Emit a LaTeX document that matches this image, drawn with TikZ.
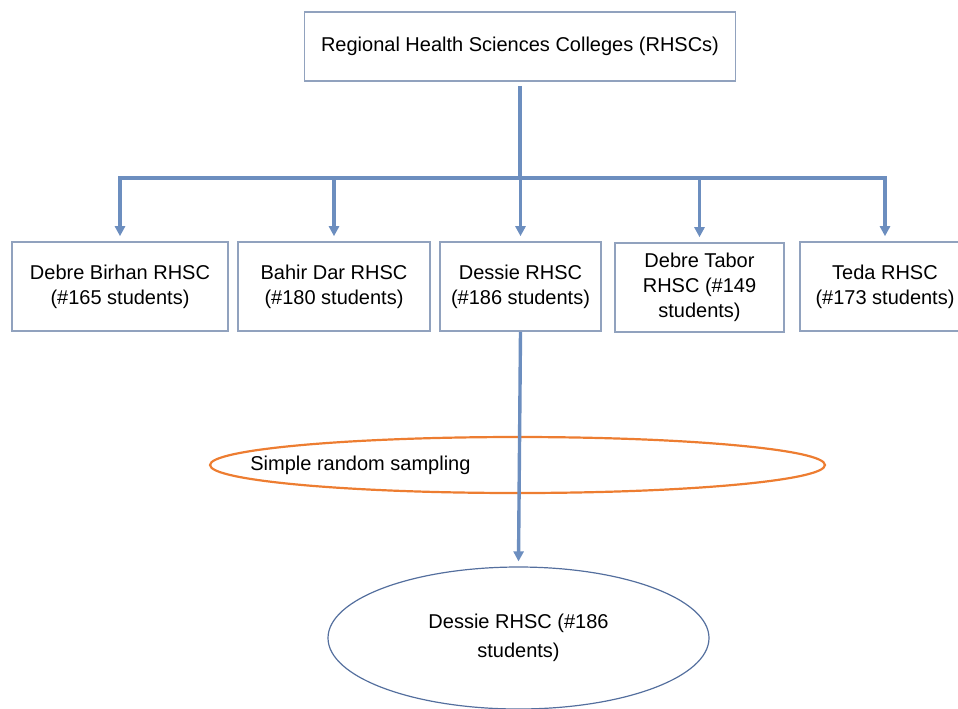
\documentclass[tikz,border=0pt]{standalone}
\usepackage{fontspec}
\setmainfont{Liberation Sans}
\usetikzlibrary{shapes.geometric,arrows.meta,positioning}
\definecolor{linkblue}{RGB}{108,142,191}
\definecolor{boxgray}{RGB}{145,162,190}
\definecolor{srsorange}{RGB}{237,125,49}
\definecolor{finalblue}{RGB}{84,111,158}

\tikzset{
  college/.style={draw=boxgray, line width=0.8pt, minimum height=44.5pt, inner sep=0pt, align=center, font=\fontsize{10}{12.5}\selectfont},
  link/.style={draw=linkblue, line width=1.7pt},
}

\begin{document}
\begin{tikzpicture}[x=0.5pt, y=-0.5pt, >={Triangle[length=5pt,width=5pt]}]
    \useasboundingbox (0,0) rectangle (958,708);

    % Top box
    \node[college, minimum width=215.5pt, minimum height=34.5pt] (rhsc) at (520,46.5) {Regional Health Sciences Colleges (RHSCs)};

    % Colleges
    \node[college, minimum width=108pt] (birhan) at (120,286.5) {Debre Birhan RHSC\\(\#165 students)};
    \node[college, minimum width=96pt] (bahir) at (334,286.5) {Bahir Dar RHSC\\(\#180 students)};
    \node[college, minimum width=80.5pt] (dessie) at (520.5,286.5) {Dessie RHSC\\(\#186 students)};
    \node[college, minimum width=84.5pt] (tabor) at (699.5,287.5) {Debre Tabor\\RHSC (\#149\\students)};
    \node[college, minimum width=85pt] (teda) at (885,286.5) {Teda RHSC\\(\#173 students)};

    % Bus
    \coordinate (bus) at (520,178);
    \draw[link] ([yshift=-2pt]rhsc.south) -- (rhsc.south |- bus);
    \draw[link, line cap=rect] (birhan.north |- bus) -- (teda.north |- bus);
    \foreach \c in {birhan,bahir,dessie,tabor,teda}
        \draw[link, ->] (\c.north |- bus) -- ([yshift=2.5pt]\c.north);

    % Sampling
    \node[draw=srsorange, line width=1.1pt, ellipse, inner sep=0pt, minimum width=307.5pt, minimum height=28pt] (srs) at (517.5,465) {};
    \node[anchor=west, inner sep=0pt, font=\fontsize{10}{12.5}\selectfont] (srslabel) at (250,465) {Simple random sampling};
    \node[draw=finalblue, line width=0.6pt, ellipse, inner sep=0pt, minimum width=190.5pt, minimum height=71pt, align=center, font=\fontsize{10}{14.5}\selectfont] (sample) at (518.5,638) {Dessie RHSC (\#186\\students)};
    \draw[link, ->] (dessie.south) -- ([yshift=2.5pt]sample.north);

\end{tikzpicture}
\end{document}
